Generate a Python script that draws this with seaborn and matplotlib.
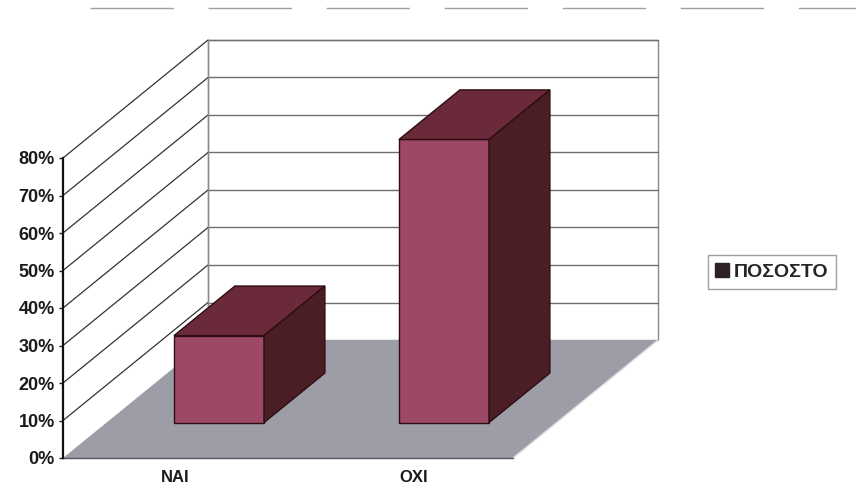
import matplotlib
matplotlib.use("Agg")
import matplotlib.pyplot as plt
import matplotlib.transforms as mtransforms
from matplotlib.patches import Polygon, Patch
from matplotlib.ticker import PercentFormatter
from matplotlib.lines import Line2D
import seaborn as sns
import pandas as pd

# Survey answers and their share of respondents
categories = ["NAI", "OXI"]
values = [0.232, 0.755]
series_name = "ΠΟΣΟΣΤΟ"
y_ticks = [0.0, 0.1, 0.2, 0.3, 0.4, 0.5, 0.6, 0.7, 0.8]

df = pd.DataFrame({"answer": categories, "share": values})

sns.set_style("white")
plt.rcParams["font.family"] = ["Liberation Sans", "DejaVu Sans"]

W, H = 856, 492
fig = plt.figure(figsize=(W / 100, H / 100), dpi=100)
fig.patch.set_facecolor("white")

# axes placed in pixel terms: front plane origin at (63, 458)
x0_px, y0_px = 63, 458
px_per_cat, px_per_val = 225.0, 375.0
right_px, top_px = 700, 30
ax = fig.add_axes([x0_px / W, (H - y0_px) / H,
                   (right_px - x0_px) / W, (y0_px - top_px) / H])

# oblique depth vector in data units
DX = 145 / px_per_cat
DY = 118 / px_per_val
ymax = max(y_ticks)
xl, xr = -0.5, len(categories) - 0.5

front_col = "#9e4868"
top_col = "#6b2a3a"
side_col = "#4a1e24"
edge_col = "#2e0d12"

sns.barplot(data=df, x="answer", y="share", width=0.4, color=front_col,
            edgecolor=edge_col, linewidth=1.0, saturation=1, ax=ax, zorder=3)
bars = list(ax.patches)

# walls and floor of the 3-D box
side_wall = Polygon([(xl, 0), (xl + DX, DY), (xl + DX, ymax + DY), (xl, ymax)],
                    closed=True, facecolor="white", edgecolor="none", zorder=0.5)
back_wall = Polygon([(xl + DX, DY), (xr + DX, DY), (xr + DX, ymax + DY), (xl + DX, ymax + DY)],
                    closed=True, facecolor="white", edgecolor="#8a8a8a", lw=1.0, zorder=0.6)
floor = Polygon([(xl, 0), (xr, 0), (xr + DX, DY), (xl + DX, DY)],
                closed=True, facecolor="#9d9da7", edgecolor="none", zorder=1)
for p in (side_wall, back_wall, floor):
    p.set_clip_on(False)
    ax.add_patch(p)

for v in y_ticks[1:]:
    # diagonal gridline on the side wall
    ax.add_line(Line2D([xl, xl + DX], [v, v + DY], color="#333333", lw=0.9,
                       zorder=0.8, clip_on=False))
    # horizontal gridline on the back wall
    ax.add_line(Line2D([xl + DX, xr + DX], [v + DY, v + DY], color="#6e6e6e", lw=1.0,
                       zorder=0.8, clip_on=False))
ax.add_line(Line2D([xl + DX, xl + DX], [DY, ymax + DY], color="#8a8a8a", lw=1.0,
                   zorder=0.8, clip_on=False))
ax.add_line(Line2D([xr, xr + DX], [0, DY], color="#dcdce0", lw=1.0, zorder=1.1,
                   clip_on=False))

# push bars into the middle of the depth and add their top and side faces
f0, d = 0.30, 0.42
for p in bars:
    x = p.get_x() + f0 * DX
    w = p.get_width()
    h = p.get_height()
    yb = f0 * DY
    p.set_x(x)
    p.set_y(yb)
    p.set_clip_on(False)
    top = Polygon([(x, yb + h), (x + w, yb + h), (x + w + d * DX, yb + h + d * DY),
                   (x + d * DX, yb + h + d * DY)], closed=True, facecolor=top_col,
                  edgecolor=edge_col, lw=1.0, zorder=3, clip_on=False)
    side = Polygon([(x + w, yb), (x + w + d * DX, yb + d * DY),
                    (x + w + d * DX, yb + h + d * DY), (x + w, yb + h)], closed=True,
                   facecolor=side_col, edgecolor=edge_col, lw=1.0, zorder=3, clip_on=False)
    ax.add_patch(top)
    ax.add_patch(side)

ax.set_xlim(-0.5, -0.5 + (right_px - x0_px) / px_per_cat)
ax.set_ylim(0, (y0_px - top_px) / px_per_val)
ax.set_facecolor("none")

ax.set_yticks(y_ticks)
ax.yaxis.set_major_formatter(PercentFormatter(xmax=1, decimals=0))
ax.tick_params(axis="y", direction="out", length=3, width=1, color="#222222",
               labelsize=13, pad=3, labelcolor="#1a1a1a", left=True)
ax.tick_params(axis="x", length=0, labelsize=12, pad=9, labelcolor="#1a1a1a")
for lab in ax.get_yticklabels() + ax.get_xticklabels():
    lab.set_fontweight("bold")
ax.set_xlabel("")
ax.set_ylabel("")
ax.grid(False)

# the second category label sits a little to the right of its bar
xlabs = ax.get_xticklabels()
xlabs[1].set_transform(xlabs[1].get_transform() +
                       mtransforms.ScaledTranslation(13 / 100, 0, fig.dpi_scale_trans))

for s in ("top", "right"):
    ax.spines[s].set_visible(False)
ax.spines["left"].set_bounds(0, ymax)
ax.spines["left"].set_color("#111111")
ax.spines["left"].set_linewidth(1.6)
ax.spines["left"].set_zorder(4)
ax.spines["bottom"].set_bounds(xl, xr)
ax.spines["bottom"].set_color("#555555")
ax.spines["bottom"].set_linewidth(1.0)

# legend
handle = Patch(facecolor="#2e2226", edgecolor="#2e2226")
leg = fig.legend([handle], [series_name], loc="center",
                 bbox_to_anchor=(772 / W, 1 - 272 / H), frameon=True, fancybox=False,
                 prop={"size": 14, "weight": "bold"}, handlelength=0.7,
                 handleheight=0.7, handletextpad=0.25, borderpad=0.4)
leg.get_frame().set_edgecolor("#8a8a8a")
leg.get_frame().set_linewidth(1.0)

# faint chart-area border along the top
border = Line2D([90 / W, 1.0], [1 - 8 / H, 1 - 8 / H], transform=fig.transFigure,
                color="#a0a0a0", lw=1.0, dashes=(60, 25))
fig.add_artist(border)

fig.savefig("out.png", dpi=100)
